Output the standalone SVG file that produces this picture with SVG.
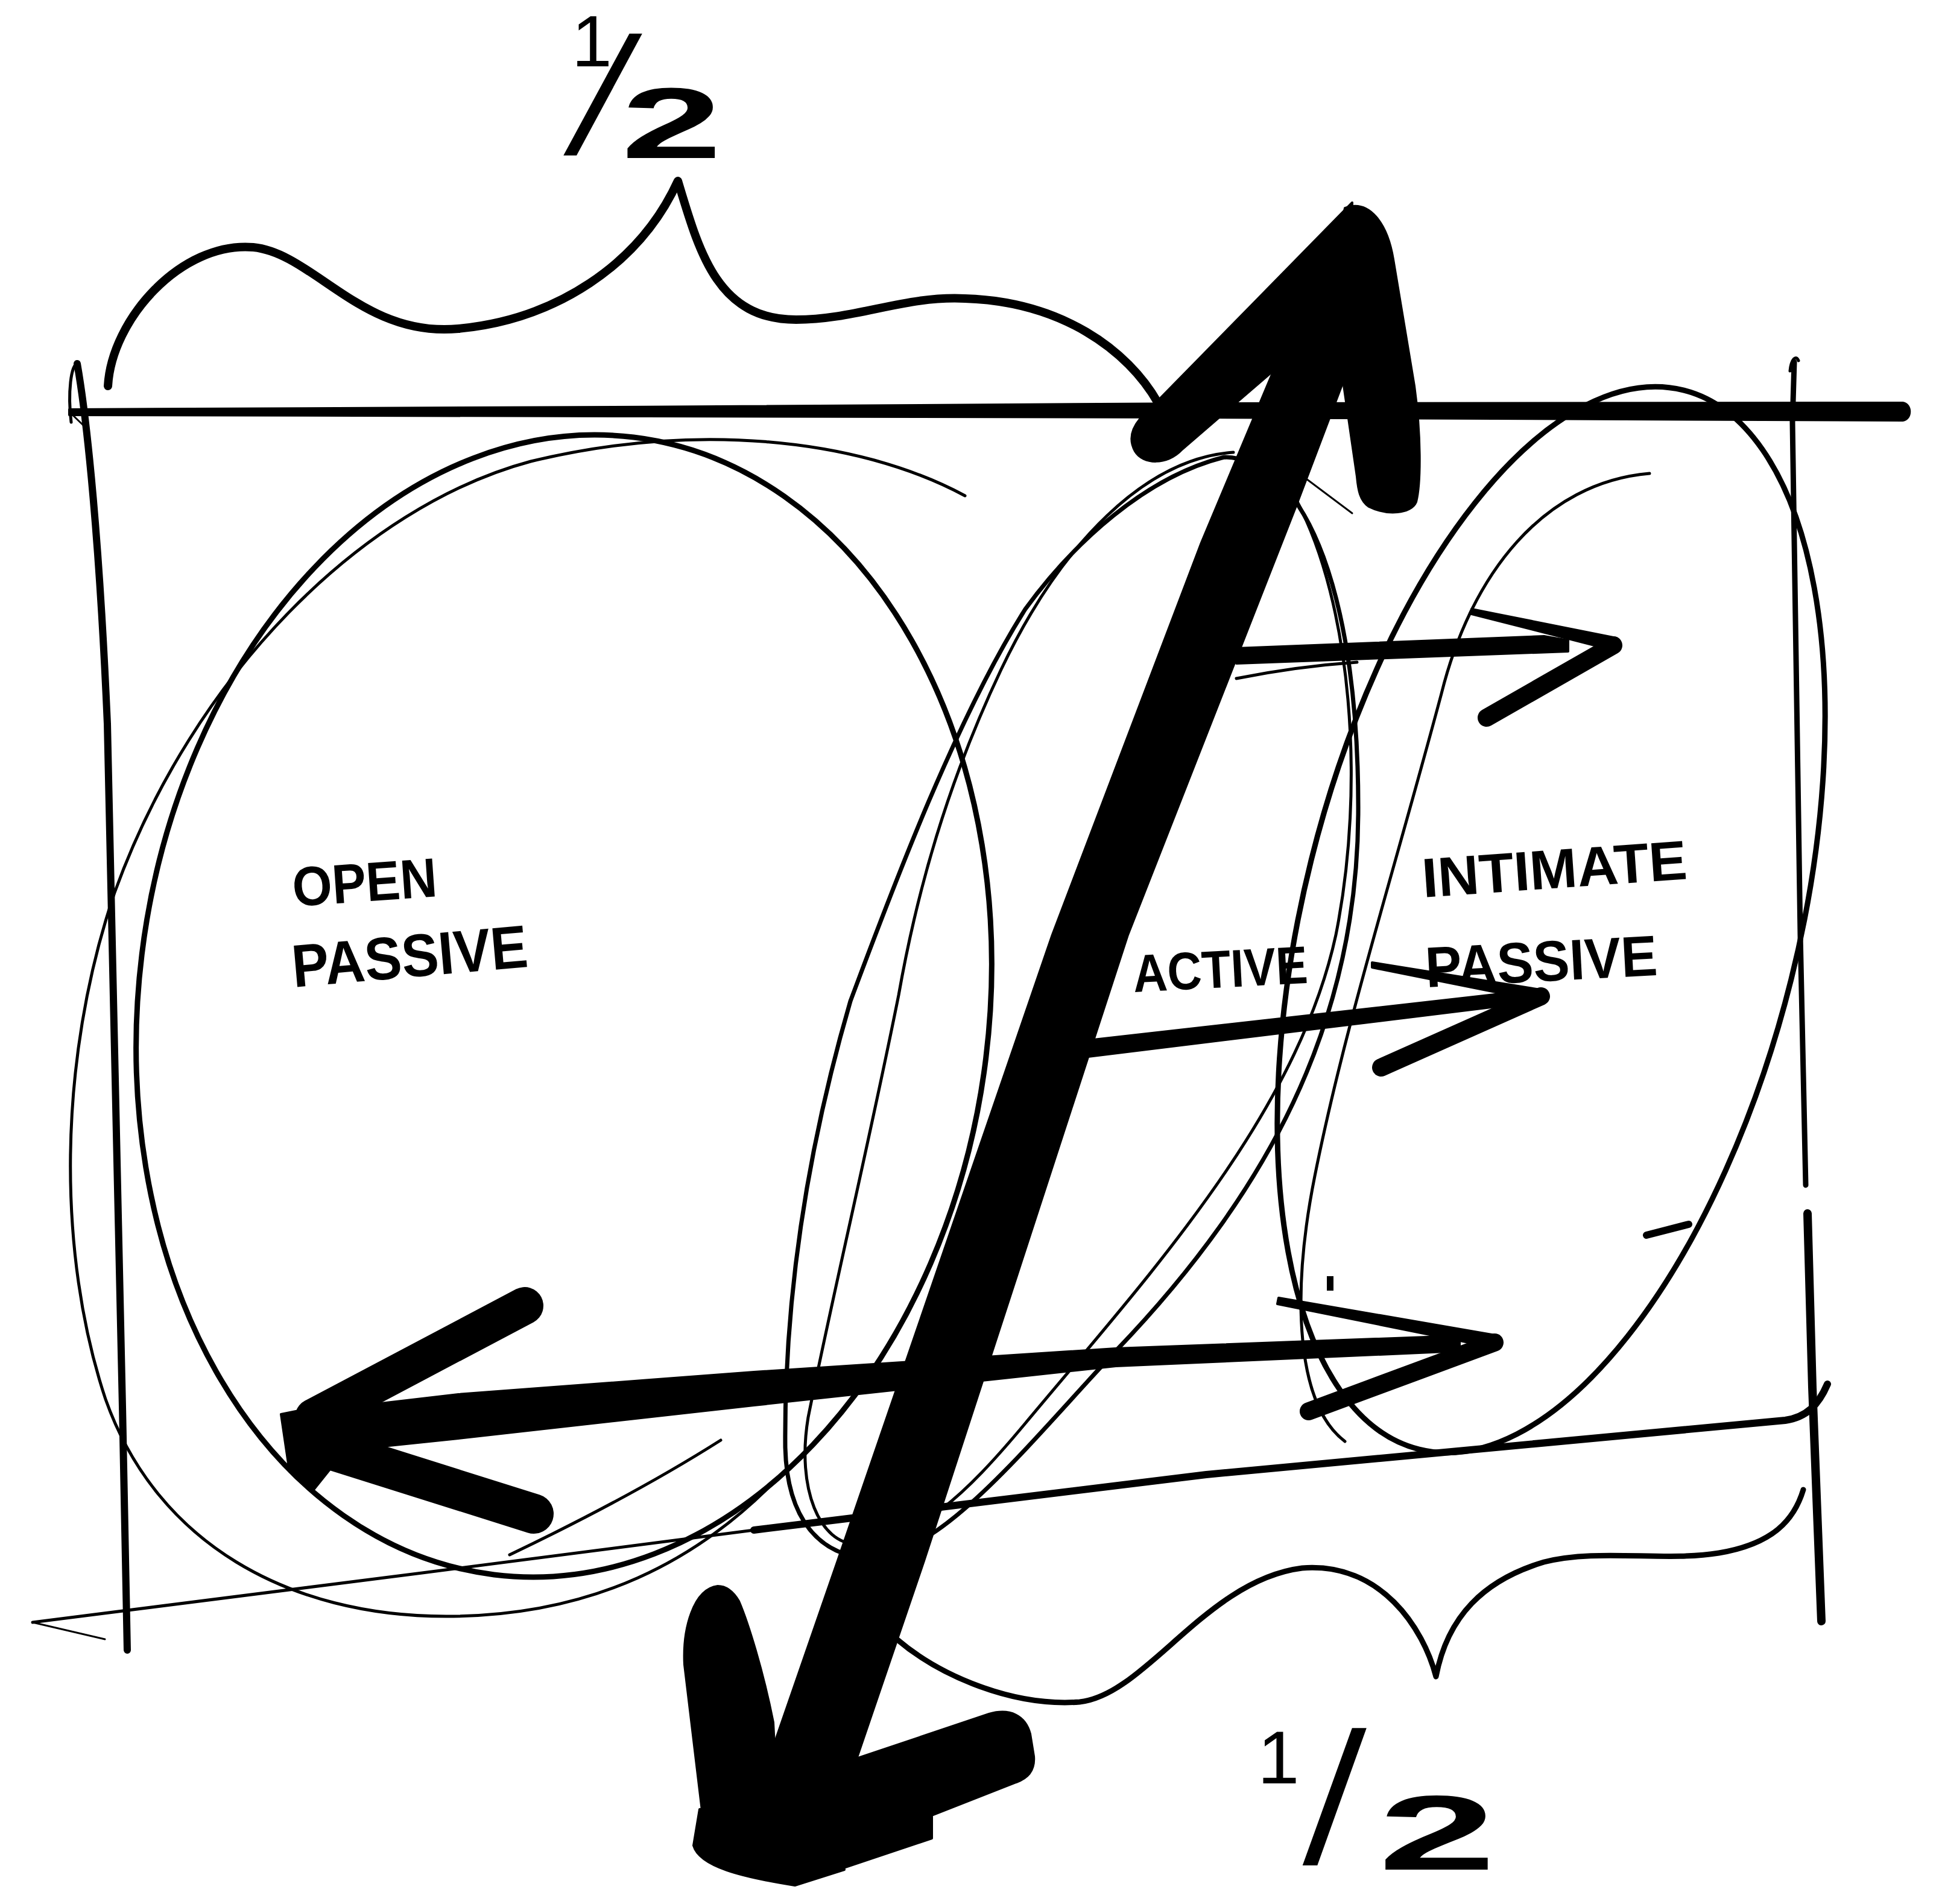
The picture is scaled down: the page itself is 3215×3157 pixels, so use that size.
<svg xmlns="http://www.w3.org/2000/svg" width="3215" height="3157" viewBox="0 0 3215 3157">
<style>
.ln{fill:none;stroke:#000;stroke-linecap:round;stroke-linejoin:round}
.t3{stroke-width:3}.t5{stroke-width:5}.t7{stroke-width:7}.t9{stroke-width:9}.t12{stroke-width:12}.t14{stroke-width:14}
.ink{fill:#000;stroke:#000;stroke-width:4;stroke-linejoin:round}
.hand{font-family:"Liberation Sans",Arial,sans-serif;font-weight:700;fill:#000}
.frac{font-family:"Liberation Sans",Arial,sans-serif;fill:#000}
</style>
<rect width="3215" height="3157" fill="#fff"/>

<g id="frame">
  <path class="ink" d="M115,679 C600,677 1500,673 2000,669 L3155,668 C3170,670 3170,695 3155,697 L2000,692 C1500,690 600,690 115,688 Z"/>
  <path class="ln t3" d="M115,683 L138,705"/>
  <path class="ln t12" d="M128,603 C145,700 165,900 178,1200 C190,1600 200,2200 211,2736"/>
  <path class="ln t5" d="M118,700 C112,650 118,605 128,603"/>
  <path class="ln t9" d="M2975,600 L2972,700 L2985,1550 L2994,1965"/>
  <path class="ln t14" d="M2997,2012 L3005,2300 L3020,2688"/>
  <path class="ln t5" d="M2968,615 C2970,595 2978,588 2982,598"/>
  <path class="ln t5" d="M54,2690 L700,2608 L1250,2537"/>
  <path class="ln t12" d="M1250,2537 L2000,2445 L2960,2355 C2995,2350 3015,2330 3030,2295"/>
  <path class="ln t3" d="M54,2690 L174,2718"/>
</g>

<g id="braces">
  <path class="ln t14" d="M179,640 C185,530 300,400 420,410 C520,420 600,560 760,545 C920,530 1060,440 1124,300 C1160,420 1190,530 1320,530 C1420,530 1500,490 1600,495 C1760,500 1870,580 1920,668"/>
  <path class="ln t9" d="M1487,2718 C1560,2780 1680,2830 1790,2822 C1900,2810 2000,2620 2159,2600 C2290,2590 2360,2700 2381,2780 C2400,2680 2460,2620 2560,2590 C2650,2567 2760,2590 2850,2575 C2940,2560 2975,2520 2990,2470"/>
</g>

<g id="node-open-passive">
  <ellipse class="ln t9" cx="935" cy="1668" rx="705" ry="950" transform="rotate(7 935 1668)"/>
  <path class="ln t5" d="M1600,822 C1420,725 1150,700 880,765 C600,840 320,1120 190,1480 C95,1760 95,2080 175,2320 C260,2560 480,2680 740,2680 C980,2680 1160,2590 1300,2440"/>
  <path class="ln t5" d="M1195,2388 Q1050,2480 845,2578"/>
  <text class="hand" x="487" y="1503" font-size="92" textLength="240" lengthAdjust="spacingAndGlyphs" transform="rotate(-4 487 1503)">OPEN</text>
  <text class="hand" x="487" y="1637" font-size="100" textLength="392" lengthAdjust="spacingAndGlyphs" transform="rotate(-5 487 1637)">PASSIVE</text>
</g>

<g id="node-active">
  <path class="ln t7" d="M2030,758 C1900,790 1780,900 1700,1010 C1580,1200 1470,1500 1410,1660 C1340,1900 1300,2150 1302,2400 C1305,2520 1360,2580 1440,2583 C1560,2580 1700,2400 1850,2240 C2100,1980 2250,1700 2252,1350 C2254,1000 2170,760 2030,758 Z"/>
  <path class="ln t5" d="M2045,750 C1900,760 1760,900 1660,1110 C1570,1300 1520,1480 1490,1650 C1440,1900 1380,2150 1340,2350 C1320,2470 1360,2560 1420,2560 C1520,2555 1600,2480 1700,2360 C1900,2120 2150,1850 2215,1550 C2265,1300 2240,1000 2150,830"/>
  <path class="ln t3" d="M2166,794 L2242,851"/>
  <text class="hand" x="1880" y="1645" font-size="88" textLength="290" lengthAdjust="spacingAndGlyphs" transform="rotate(-3 1880 1645)">ACTIVE</text>
</g>

<g id="node-intimate-passive">
  <ellipse class="ln t9" cx="2572" cy="1525" rx="410" ry="905" transform="rotate(14 2572 1525)"/>
  <path class="ln t5" d="M2735,785 C2560,800 2440,950 2390,1150 C2310,1450 2230,1700 2180,1950 C2140,2150 2150,2330 2230,2390"/>
  <path class="ln t12" d="M2730,2048 L2800,2030"/>
  <rect x="2200" y="2116" width="11" height="24" fill="#000"/>
  <text class="hand" x="2360" y="1488" font-size="92" textLength="440" lengthAdjust="spacingAndGlyphs" transform="rotate(-4 2360 1488)">INTIMATE</text>
  <text class="hand" x="2365" y="1637" font-size="95" textLength="385" lengthAdjust="spacingAndGlyphs" transform="rotate(-3 2365 1637)">PASSIVE</text>
</g>

<g id="labels">
  <text class="frac" x="948" y="110" font-size="120">1</text>
  <text class="frac" font-size="275" transform="translate(935 255) skewX(-15)">/</text>
  <text class="frac" font-size="167" font-weight="700" transform="translate(1030 262) scale(1.8 1)">2</text>
  <text class="frac" x="2085" y="2957" font-size="125">1</text>
  <text class="frac" font-size="310" transform="translate(2160 3090) skewX(-5)">/</text>
  <text class="frac" font-size="176" font-weight="700" transform="translate(2285 3100) scale(2 1)">2</text>
</g>

<g id="connectors">
  <path class="ink" d="M2240,345 L2228,630 L2150,836 L1870,1550 L1532,2588 L1395,2990 L1255,2975 L1389,2588 L1745,1550 L1992,900 L2112,614 Z"/>
  <path class="ink" d="M2242,336 L1890,695 C1876,712 1872,730 1882,748 C1895,770 1935,772 1960,745 L2112,614 L2240,400 Z"/>
  <path class="ink" d="M2230,345 C2270,330 2300,370 2310,430 L2345,640 C2356,720 2356,800 2348,832 C2340,852 2300,855 2270,840 C2255,830 2252,812 2250,790 L2205,480 Z"/>
  <path class="ink" d="M1190,2630 C1150,2635 1132,2700 1135,2760 L1165,3010 L1290,3010 L1282,2856 C1265,2770 1240,2690 1225,2655 C1215,2638 1203,2630 1190,2630 Z"/>
  <path class="ink" d="M1393,2925 L1640,2842 C1675,2832 1700,2845 1708,2875 L1714,2912 C1716,2935 1705,2948 1685,2955 L1545,3010 L1545,3048 L1318,3124 L1250,3000 Z"/>
  <path class="ink" d="M1160,3000 L1150,3060 C1160,3095 1230,3112 1318,3126 L1400,3100 L1380,2980 Z"/>
  <path class="ink" d="M2420,2215 L1850,2236 L1250,2275 L760,2312 L520,2340 L520,2410 L760,2385 L1250,2330 L1850,2265 L2420,2240 Z"/>
  <path class="ln" stroke-width="62" d="M520,2350 L870,2165"/>
  <path class="ln" stroke-width="66" d="M520,2395 L885,2510"/>
  <path class="ink" d="M466,2345 L540,2330 L560,2420 L520,2470 L480,2440 Z"/>
  <path class="ink" d="M2120,2152 L2485,2215 L2480,2235 L2118,2162 Z"/>
  <path class="ln" stroke-width="30" d="M2478,2226 L2170,2340"/>
  <path class="ink" d="M2050,1075 L2560,1055 L2600,1062 L2600,1080 L2050,1100 Z"/>
  <path class="ln t5" d="M2050,1125 Q2150,1105 2250,1098"/>
  <path class="ink" d="M2440,1010 L2680,1058 L2675,1078 L2440,1018 Z"/>
  <path class="ln" stroke-width="30" d="M2675,1070 L2465,1190"/>
  <path class="ink" d="M1804,1725 L2540,1642 L2555,1660 L1804,1752 Z"/>
  <path class="ink" d="M2275,1596 L2560,1642 L2555,1660 L2275,1604 Z"/>
  <path class="ln" stroke-width="30" d="M2555,1652 L2290,1770"/>
</g>
</svg>
